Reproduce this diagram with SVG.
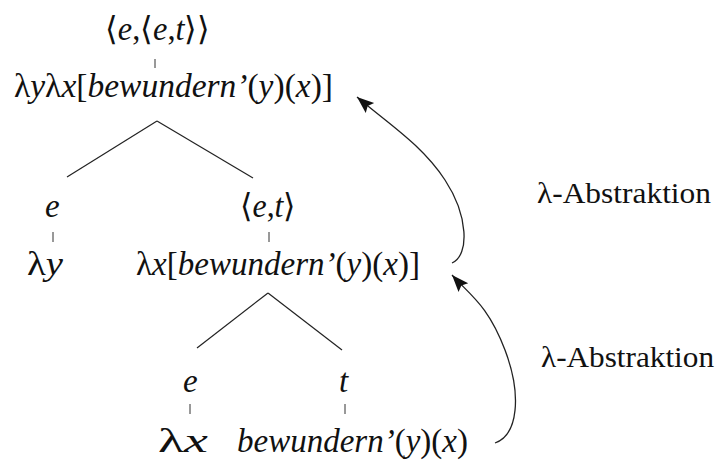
<svg xmlns="http://www.w3.org/2000/svg" width="718" height="464" viewBox="0 0 718 464">
<style>
.ln{stroke:#222;stroke-width:1.2;fill:none}
.tk{stroke:#333;stroke-width:1;fill:none}
.arr{stroke:#222;stroke-width:1.3;fill:none;marker-end:url(#ah)}
</style>
<defs>
<marker id="ah" markerUnits="userSpaceOnUse" markerWidth="18" markerHeight="14" refX="17" refY="6.5" orient="auto">
<path d="M0,0 L17,6.5 L0,13 L3,6.5 z" fill="#111"/>
</marker>
</defs>
<rect width="718" height="464" fill="#fff"/>
<g id="labels">
<text x="537" y="203" font-family="Liberation Serif" font-size="30" fill="#111" textLength="174" lengthAdjust="spacingAndGlyphs">λ-Abstraktion</text>
<text x="541" y="367" font-family="Liberation Serif" font-size="30" fill="#111" textLength="173" lengthAdjust="spacingAndGlyphs">λ-Abstraktion</text>
</g>
<g id="root">
<text x="105" y="40" font-family="Liberation Serif" font-size="33" fill="#111" textLength="105" lengthAdjust="spacingAndGlyphs">⟨<tspan font-style="italic">e</tspan>,⟨<tspan font-style="italic">e</tspan>,<tspan font-style="italic">t</tspan>⟩⟩</text>
<text x="14" y="97" font-family="Liberation Serif" font-size="33" fill="#111" textLength="319" lengthAdjust="spacingAndGlyphs">λ<tspan font-style="italic">y</tspan>λ<tspan font-style="italic">x</tspan>[<tspan font-style="italic">bewundern’</tspan>(<tspan font-style="italic">y</tspan>)(<tspan font-style="italic">x</tspan>)]</text>
</g>
<g id="node-ly">
<text x="45" y="217" font-family="Liberation Serif" font-size="33" fill="#111" font-style="italic">e</text>
<text x="27" y="275" font-family="Liberation Serif" font-size="33" fill="#111" textLength="36" lengthAdjust="spacingAndGlyphs">λ<tspan font-style="italic">y</tspan></text>
</g>
<g id="node-lx-body">
<text x="240" y="217" font-family="Liberation Serif" font-size="33" fill="#111" textLength="56" lengthAdjust="spacingAndGlyphs">⟨<tspan font-style="italic">e</tspan>,<tspan font-style="italic">t</tspan>⟩</text>
<text x="136" y="275" font-family="Liberation Serif" font-size="33" fill="#111" textLength="284" lengthAdjust="spacingAndGlyphs">λ<tspan font-style="italic">x</tspan>[<tspan font-style="italic">bewundern’</tspan>(<tspan font-style="italic">y</tspan>)(<tspan font-style="italic">x</tspan>)]</text>
</g>
<g id="node-lx">
<text x="183" y="392" font-family="Liberation Serif" font-size="33" fill="#111" font-style="italic">e</text>
<text x="158" y="452" font-family="Liberation Serif" font-size="33" fill="#111" textLength="50" lengthAdjust="spacingAndGlyphs">λ<tspan font-style="italic">x</tspan></text>
</g>
<g id="node-body">
<text x="339" y="392" font-family="Liberation Serif" font-size="33" fill="#111" font-style="italic">t</text>
<text x="237" y="452" font-family="Liberation Serif" font-size="33" fill="#111" textLength="231" lengthAdjust="spacingAndGlyphs"><tspan font-style="italic">bewundern’</tspan>(<tspan font-style="italic">y</tspan>)(<tspan font-style="italic">x</tspan>)</text>
</g>
<g id="connectors">
<line class="tk" x1="155" y1="59" x2="155" y2="68"/>
<line class="ln" x1="157" y1="121" x2="67" y2="177"/>
<line class="ln" x1="157" y1="121" x2="253" y2="178"/>
<line class="tk" x1="53" y1="232" x2="53" y2="242"/>
<line class="tk" x1="269" y1="232" x2="269" y2="242"/>
<line class="ln" x1="268" y1="293" x2="197" y2="348"/>
<line class="ln" x1="268" y1="293" x2="342" y2="350"/>
<line class="tk" x1="190" y1="404" x2="190" y2="414"/>
<line class="tk" x1="345" y1="404" x2="345" y2="414"/>
<path class="arr" d="M452,263 C470,255 468,215 445,180 S390,125 357,97"/>
<path class="arr" d="M495,443 C518,435 522,395 505,350 S470,295 452,275"/>
</g>
</svg>
